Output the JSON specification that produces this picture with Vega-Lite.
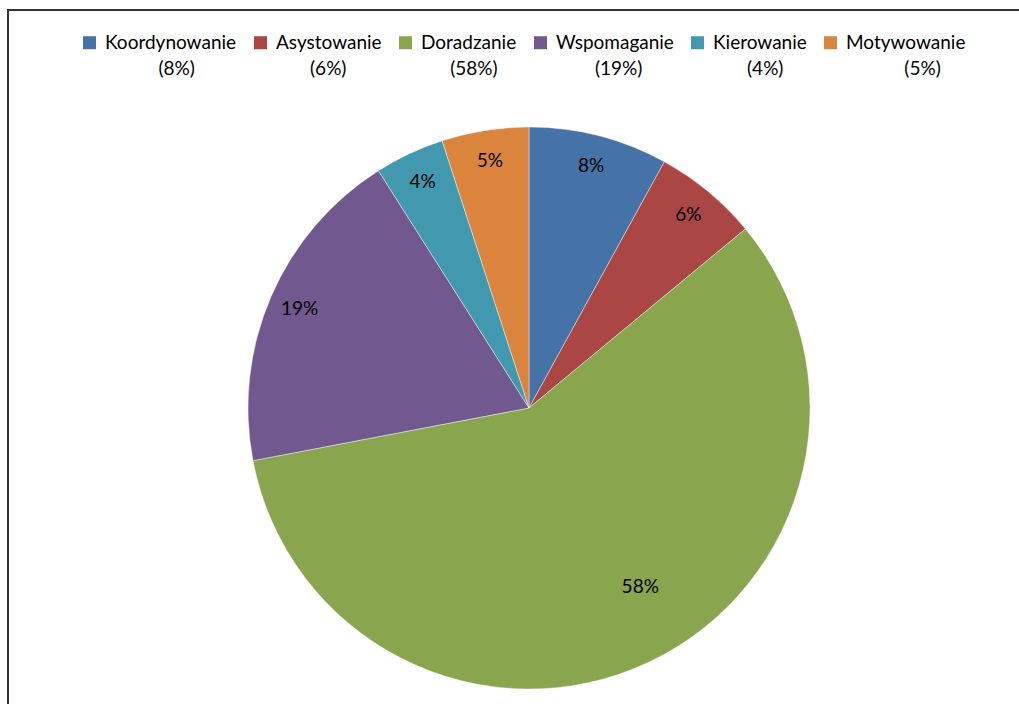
{
  "$schema": "https://vega.github.io/schema/vega-lite/v6.json",
  "width": 1042,
  "height": 796,
  "autosize": {"type": "none"},
  "padding": {"left": 8, "top": 10, "right": -31, "bottom": -102},
  "background": "white",
  "config": {
    "view": {"stroke": null},
    "font": "Lato",
    "style": {"guide-label": {"lineHeight": 26}}
  },
  "data": {
    "values": [
      {"kategoria": "Koordynowanie", "udzial": 0.08, "nr": 1},
      {"kategoria": "Asystowanie", "udzial": 0.06, "nr": 2},
      {"kategoria": "Doradzanie", "udzial": 0.58, "nr": 3},
      {"kategoria": "Wspomaganie", "udzial": 0.19, "nr": 4},
      {"kategoria": "Kierowanie", "udzial": 0.04, "nr": 5},
      {"kategoria": "Motywowanie", "udzial": 0.05, "nr": 6}
    ]
  },
  "layer": [
    {
      "data": {"values": [{"ramka": 1}]},
      "mark": {"type": "rect", "fill": null, "stroke": "#333333", "strokeWidth": 2},
      "encoding": {}
    },
    {
      "encoding": {
        "theta": {"field": "udzial", "type": "quantitative", "stack": true},
        "order": {"field": "nr", "type": "quantitative"},
        "color": {
          "field": "kategoria",
          "type": "nominal",
          "scale": {
            "domain": ["Koordynowanie", "Asystowanie", "Doradzanie", "Wspomaganie", "Kierowanie", "Motywowanie"],
            "range": ["#4572A7", "#AA4643", "#89A54E", "#71588F", "#4198AF", "#DB843D"]
          },
          "legend": {
            "title": null,
            "orient": "none",
            "legendX": 72,
            "legendY": 23,
            "direction": "horizontal",
            "columns": 6,
            "symbolType": "square",
            "symbolSize": 169,
            "symbolStrokeWidth": 0,
            "symbolOpacity": 1,
            "labelFont": "Lato",
            "labelFontSize": 19,
            "labelColor": "#000000",
            "labelOffset": 6,
            "labelLimit": 0,
            "columnPadding": 14,
            "padding": 0,
            "encode": {"labels": {"enter": {"lineHeight": {"value": 26}}, "update": {"lineHeight": {"value": 26}}}},
            "labelExpr": "[datum.label, ['\u200b\u00a0\u00a0\u00a0\u00a0\u00a0\u00a0\u00a0\u00a0\u00a0\u00a0\u00a0(8%)', '\u200b\u00a0\u00a0\u00a0\u00a0\u00a0\u00a0\u00a0(6%)', '\u200b\u00a0\u00a0\u00a0\u00a0\u00a0\u00a0(58%)', '\u200b\u00a0\u00a0\u00a0\u00a0\u00a0\u00a0\u00a0\u00a0(19%)', '\u200b\u00a0\u00a0\u00a0\u00a0\u00a0\u00a0\u00a0(4%)', '\u200b\u00a0\u00a0\u00a0\u00a0\u00a0\u00a0\u00a0\u00a0\u00a0\u00a0\u00a0\u00a0(5%)'][indexof(['Koordynowanie', 'Asystowanie', 'Doradzanie', 'Wspomaganie', 'Kierowanie', 'Motywowanie'], datum.label)]]"
          }
        }
      },
      "layer": [
        {
          "mark": {"type": "arc", "outerRadius": 281, "stroke": "#ffffff", "strokeWidth": 0.6, "strokeOpacity": 0.7}
        },
        {
          "mark": {"type": "text", "radius": 250, "fontSize": 19, "font": "Lato"},
          "encoding": {
            "text": {"field": "udzial", "type": "quantitative", "format": ".0%"},
            "color": {"value": "#000000"},
            "opacity": {"condition": {"test": "datum.kategoria == 'Doradzanie'", "value": 0}, "value": 1}
          }
        },
        {
          "mark": {"type": "text", "radius": 212, "fontSize": 19, "font": "Lato", "dx": 21, "dy": -13},
          "encoding": {
            "text": {"field": "udzial", "type": "quantitative", "format": ".0%"},
            "color": {"value": "#000000"},
            "opacity": {"condition": {"test": "datum.kategoria == 'Doradzanie'", "value": 1}, "value": 0}
          }
        }
      ]
    }
  ]
}
